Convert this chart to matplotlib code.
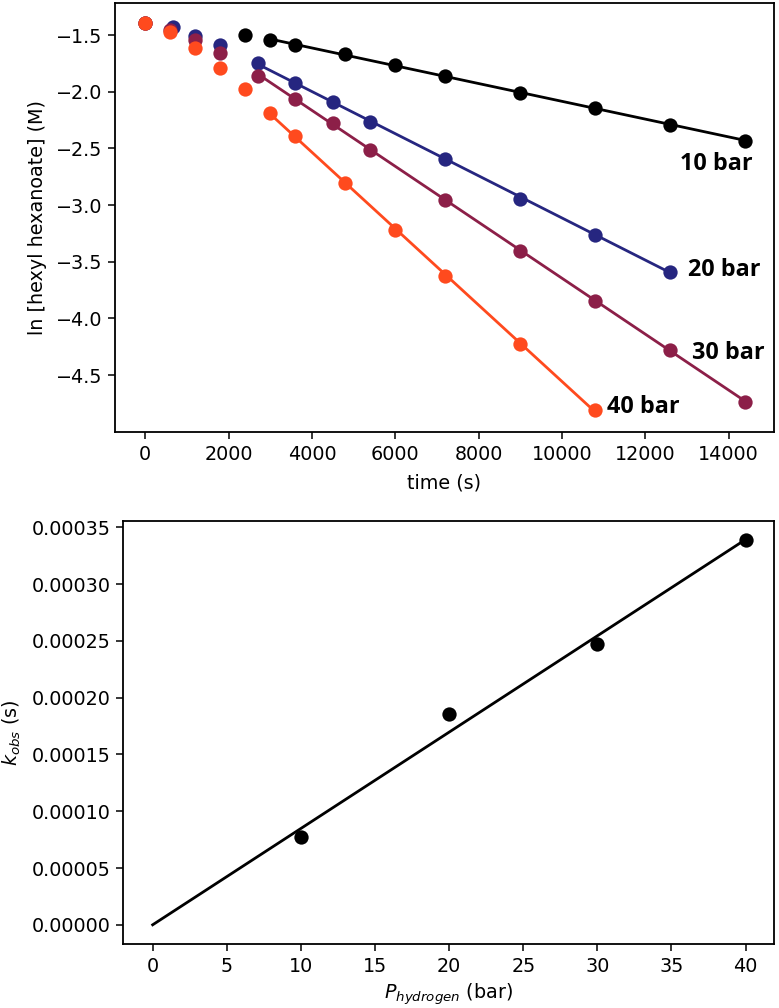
import numpy as np
import matplotlib
matplotlib.use("Agg")
import matplotlib.pyplot as plt

# ---- data: top panel (time in s, ln[hexyl hexanoate] in M) ----
t_10 = [2400, 3000, 3600, 4800, 6000, 7200, 9000, 10800, 12600, 14400]
y_10 = [-1.500, -1.544, -1.588, -1.668, -1.765, -1.863, -2.007, -2.143, -2.290, -2.435]
fit_start_10 = 3000

t_20 = [0, 660, 1200, 1800, 2700, 3600, 4500, 5400, 7200, 9000, 10800, 12600]
y_20 = [-1.391, -1.430, -1.505, -1.588, -1.750, -1.922, -2.090, -2.267, -2.590, -2.944, -3.262, -3.587]
fit_start_20 = 2700

t_30 = [0, 600, 1200, 1800, 2700, 3600, 4500, 5400, 7200, 9000, 10800, 12600, 14400]
y_30 = [-1.391, -1.455, -1.544, -1.660, -1.862, -2.060, -2.275, -2.510, -2.953, -3.401, -3.843, -4.279, -4.740]
fit_start_30 = 2700

t_40 = [0, 600, 1200, 1800, 2400, 3000, 3600, 4800, 6000, 7200, 9000, 10800]
y_40 = [-1.391, -1.470, -1.612, -1.795, -1.980, -2.187, -2.393, -2.806, -3.218, -3.628, -4.226, -4.809]
fit_start_40 = 3000

series_labels = ["10 bar", "20 bar", "30 bar", "40 bar"]
series_colors = ["#000000", "#262680", "#8c1f48", "#ff4a1e"]

# ---- data: bottom panel ----
pressure = [10, 20, 30, 40]
k_obs = [7.75e-5, 1.858e-4, 2.473e-4, 3.385e-4]

plt.rcParams['font.family'] = ['DejaVu Sans']
plt.rcParams['mathtext.fontset'] = 'dejavusans'

fig = plt.figure(figsize=(7.79, 10.08), dpi=100)

FS = 13.8
MS = 10.3
LW = 2.0

# ---------------- top panel ----------------
ax1 = fig.add_axes([0.1476, 0.5717, 0.8455, 0.4258])
sets = [(t_10, y_10, fit_start_10), (t_20, y_20, fit_start_20),
        (t_30, y_30, fit_start_30), (t_40, y_40, fit_start_40)]
for (t, y, ts), col in zip(sets, series_colors):
    t = np.asarray(t, float)
    y = np.asarray(y, float)
    m = t >= ts
    a, b = np.polyfit(t[m], y[m], 1)
    tt = np.array([t[m].min(), t[m].max()])
    ax1.plot(tt, a * tt + b, color=col, lw=LW, zorder=2)
    ax1.plot(t, y, 'o', color=col, ms=MS, zorder=3, markeredgewidth=0)

label_pos = [(12840, -2.694), (13016, -3.622), (13120, -4.359), (11081, -4.831)]
for (lx, ly), lab in zip(label_pos, series_labels):
    ax1.text(lx, ly, lab, ha='left', va='baseline', fontsize=16.8,
             fontweight='bold', family=['Open Sans', 'DejaVu Sans'])

ax1.set_xlim(-727, 15080)
ax1.set_ylim(-5.0, -1.213)
ax1.set_xticks(np.arange(0, 14001, 2000))
ax1.set_yticks([-4.5, -4.0, -3.5, -3.0, -2.5, -2.0, -1.5])
ax1.set_xlabel("time (s)", fontsize=FS, labelpad=7)
ax1.set_ylabel("ln [hexyl hexanoate] (M)", fontsize=FS, labelpad=6)

# ---------------- bottom panel ----------------
ax2 = fig.add_axes([0.1583, 0.0635, 0.8357, 0.4196])
p = np.asarray(pressure, float)
k = np.asarray(k_obs, float)
slope = np.sum(p * k) / np.sum(p * p)
pp = np.array([0.0, p.max()])
ax2.plot(pp, slope * pp, color='black', lw=LW, zorder=2)
ax2.plot(p, k, 'o', color='black', ms=MS, zorder=3, markeredgewidth=0)
ax2.set_xlim(-1.98, 41.94)
ax2.set_ylim(-1.69e-5, 0.0003556)
ax2.set_xticks(np.arange(0, 41, 5))
ax2.set_yticks(np.arange(0, 0.00036, 0.00005))
ax2.yaxis.set_major_formatter(matplotlib.ticker.FormatStrFormatter('%.5f'))
ax2.set_xlabel("$P_{hydrogen}$ (bar)", fontsize=FS, labelpad=4)
ax2.set_ylabel("$k_{obs}$ (s)", fontsize=FS, labelpad=6)

for ax in (ax1, ax2):
    ax.tick_params(labelsize=FS, length=4.8, width=1.1, pad=4.5)
    for s in ax.spines.values():
        s.set_linewidth(1.3)

fig.savefig("out.png", dpi=100)
